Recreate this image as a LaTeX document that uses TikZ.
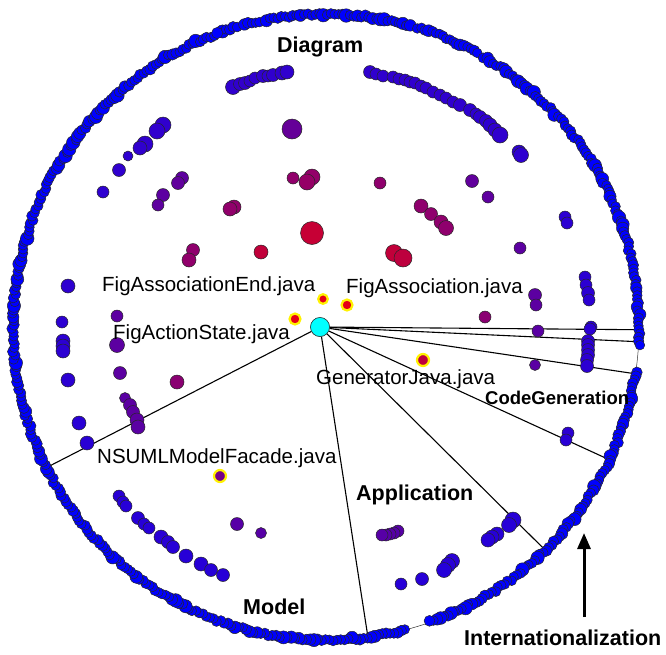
\documentclass[tikz,border=0pt]{standalone}
\usepackage{fontspec}
\setmainfont{Liberation Sans}
\usetikzlibrary{arrows.meta, calc}

\definecolor{hot}{RGB}{230,0,20}
\definecolor{cold}{RGB}{0,0,255}
\definecolor{hubcyan}{RGB}{0,255,255}

\begin{document}
\begin{tikzpicture}[x=1pt, y=-1pt,
  ringdot/.style={fill=cold, draw=black!85, line width=0.5pt},
  dot/.style={draw=black!85, line width=0.5pt},
  hilite/.style={draw=yellow, line width=2.2pt},
  spoke/.style={black, line width=1.1pt},
  rim/.style={black!80, line width=0.5pt},
  hub/.style={circle, draw=black!80, fill=hubcyan, minimum size=19pt,
              inner sep=0pt, line width=0.5pt},
  lbl/.style={font=\fontsize{20.5}{22}\selectfont, inner sep=0pt, anchor=base west},
  grp/.style={font=\fontsize{21.5}{24}\selectfont\bfseries, inner sep=0pt, anchor=base west},
  pointer/.style={-{Triangle[length=16pt, width=13pt]}, line width=3pt}
]
\useasboundingbox (0,0) rectangle (666,654);
\coordinate (ctr) at (326,327);
% outer rim and sector borders
\draw[rim] (ctr) circle[radius=313];
\foreach \a/\n in {0.5/s1, 2.7/s2, 8.6/s3, 25.1/s4, 45.5/s5, 82.3/s6, 153.3/s7}
  \coordinate (\n) at ($(ctr)+(\a:313)$);
\node[hub] (root) at (320,327) {};
\foreach \n in {s1,s2,s3,s4,s5,s6,s7}
  \draw[spoke] (root) -- (\n);
% leaves on the rim
\pgfmathsetseed{42}
\foreach \s/\e in {-110/-106.3, -105.1/-102.2, -101/-74.2, -73/-60.9,
                   -59.7/3.3, 8.3/70.7, 75.4/250} {
  \pgfmathtruncatemacro\n{(\e-\s)/0.7}
  \foreach \k in {0,...,\n} {
    \pgfmathsetmacro\a{\s+0.7*\k}
    \pgfmathsetmacro\rr{313+1.5*rand}
    \pgfmathsetmacro\ds{4.8+2*rnd^4}
    \filldraw[ringdot] ($(ctr)+(\a:\rr)$) circle[radius=\ds];
  }
}
% inner packages, coloured by depth
\foreach \x/\y/\rad in {
  233/87/7.5, 240/84/6.5, 245/83/6.5, 250/81/6, 255/78/6, 263/76/6.5, 268/76/6,
  273/75/6.5, 282/73/7, 287/72/7,
  370/72/6.5, 376/74/6, 383/76/6, 393/77/6, 399/79/6, 405/80/6, 410/82/6,
  415/83/6, 421/86/6, 426/88/6, 433/92/6, 440/95/6, 446/98/6, 453/102/6,
  460/105/6.5, 470/110/6.5, 476/114/6, 480/117/6.5, 486/121/6.5, 490/125/7,
  495/130/7, 500/135/8, 519/152/7, 521/155/7.5,
  292/129/10, 163/125/8, 157/131/8, 145/144/8, 140/148/7, 128/156/5,
  119/170/6.5, 103/192/6, 182/178/6.5, 178/183/6.5, 163/195/6.5, 158/205/6,
  293/178/6, 312/177/8, 307/182/8, 234/207/7, 230/209/7, 312/233/11.5,
  261/252/7, 193/250/6.5, 189/260/7, 68/286/7, 62/322/6, 117/316/6,
  380/183/6, 421/206/7, 431/214/6.5, 441/222/7, 446/228/7.5, 394/253/8.5,
  403/258/9, 472/181/6.5, 488/197/6, 565/217/6, 567/223/6, 520/248/6,
  585/277/6, 586/285/6, 588/293/6.5, 589/300/6, 535/295/6.5, 536/305/6,
  485/317/6, 591/327/6,
  63/341/7, 63/346/7, 63/351/7, 117/345/7.5, 68/380/7, 120/373/6.5,
  177/382/7, 125/398/5.5, 130/405/6.5, 133/412/6.5, 137/420/7, 138/427/7,
  79/423/7, 87/443/7, 119/496/6, 123/502/6, 126/506/6, 138/518/6.5,
  144/524/6, 149/528/6, 161/537/7, 168/542/6.5, 173/547/6.5, 186/556/7,
  201/564/7, 211/570/6.5, 223/575/6.5, 237/524/6.5, 261/533/5.5,
  538/331/6, 590/329/6, 588/341/6.5, 588/345/6.5, 588/350/6.5, 588/355/6.5,
  587/360/6.5, 587/366/6.5, 535/365/5.5, 568/433/6, 566/440/6,
  513/520/8, 509/525/7.5, 497/534/7, 492/537/7, 488/540/7, 452/561/7.5,
  448/565/7.5, 444/570/7.5, 422/579/6.5, 401/584/6,
  398/531/6, 394/533/6, 390/534/6, 386/535/6, 382/535/6} {
  \pgfmathtruncatemacro\pc{max(0,min(100,(313-veclen(\x-326,\y-327))/2.53))}
  \colorlet{dotc}{hot!\pc!cold}
  \filldraw[dot, fill=dotc] (\x,\y) circle[radius=\rad];
}
% highlighted files
\foreach \x/\y/\rad in {323/299/4.8, 295/319/5.5, 347/305/5.5, 423/360/6, 220/476/6} {
  \pgfmathtruncatemacro\pc{max(0,min(100,(313-veclen(\x-326,\y-327))/2.53))}
  \colorlet{dotc}{hot!\pc!cold}
  \filldraw[hilite, fill=dotc] (\x,\y) circle[radius=\rad];
}
\node[hub] at (root) {};
% labels
\node[grp] (diagram) at (277,52) {Diagram};
\node[lbl] (figassocend) at (102,291) {FigAssociationEnd.java};
\node[lbl] (figassoc) at (346,293) {FigAssociation.java};
\node[lbl] (figaction) at (113,339) {FigActionState.java};
\node[lbl] (genjava) at (316,384) {GeneratorJava.java};
\node[grp, font=\fontsize{18.5}{20}\selectfont\bfseries] (codegen) at (485,404) {CodeGeneration};
\node[lbl] (nsuml) at (97,463) {NSUMLModelFacade.java};
\node[grp] (application) at (356,500) {Application};
\node[grp] (model) at (243,614) {Model};
\node[grp] (intl) at (464,645) {Internationalization};
\coordinate (tail) at (584,617);
\coordinate (tip) at (584,533);
\draw[pointer] (tail) -- (tip);
\end{tikzpicture}
\end{document}
